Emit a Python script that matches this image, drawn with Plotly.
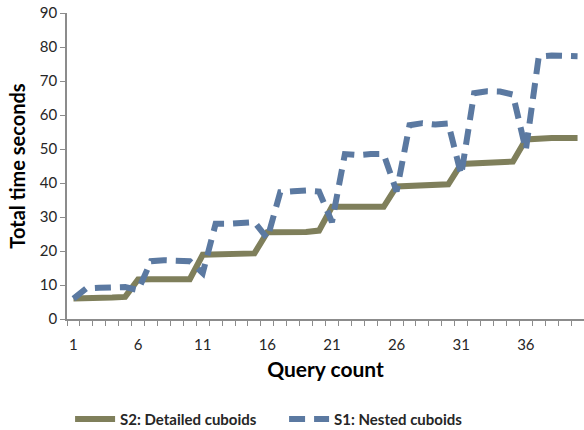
import plotly.graph_objects as go

# Query index (1..40) and cumulative running time in seconds
queries = list(range(1, 41))

detailed_cuboids = [
    6.0, 6.0, 6.0, 6.3, 6.5,
    11.6, 11.7, 11.7, 11.7, 11.7,
    18.9, 19.1, 19.3, 19.3, 19.3,
    25.5, 25.5, 25.5, 25.6, 26.0,
    33.0, 33.0, 33.0, 33.0, 33.0,
    39.0, 39.2, 39.5, 39.5, 39.6,
    45.6, 45.7, 45.8, 46.1, 46.3,
    52.8, 53.1, 53.2, 53.2, 53.2,
]

nested_cuboids = [
    6.0, 9.0, 9.2, 9.2, 9.4,
    8.5, 17.0, 17.3, 17.2, 17.0,
    13.5, 28.0, 28.0, 28.3, 28.5,
    23.7, 37.3, 37.6, 37.8, 37.5,
    28.5, 48.5, 48.2, 48.5, 48.5,
    37.5, 57.0, 57.6, 57.2, 57.5,
    42.4, 66.4, 67.0, 66.9, 66.0,
    49.7, 77.2, 77.5, 77.4, 77.3,
]

x_tick_vals = [1, 6, 11, 16, 21, 26, 31, 36]
x_tick_text = ["1", "6", "11", "16", "21", "26", "31", "36"]
y_tick_vals = [0, 10, 20, 30, 40, 50, 60, 70, 80, 90]

FONT = "Lato"
AXIS_GREY = "#8c8c8c"
TEXT = "#262626"

fig = go.Figure()
fig.add_trace(go.Scatter(
    x=queries, y=detailed_cuboids, mode="lines",
    name="S2: Detailed cuboids",
    line=dict(color="#7f7f5b", width=6),
))
fig.add_trace(go.Scatter(
    x=queries, y=nested_cuboids, mode="lines",
    name="S1: Nested cuboids",
    line=dict(color="#5b79a1", width=6, dash="16px,9px"),
))

fig.update_layout(
    width=584, height=430,
    margin=dict(l=67, r=0, t=13, b=111, autoexpand=False),
    paper_bgcolor="white", plot_bgcolor="white",
    font=dict(family=FONT, color=TEXT),
    showlegend=True,
    legend=dict(
        orientation="h",
        xref="container", x=0.12, xanchor="left",
        yref="container", y=0.025, yanchor="middle",
        font=dict(family=FONT, size=15, color=TEXT, weight="bold"),
        itemwidth=40, entrywidth=159, bgcolor="rgba(0,0,0,0)",
    ),
    xaxis=dict(
        range=[0.5, 40.5], showgrid=False, zeroline=False, automargin=False,
        showline=True, linecolor=AXIS_GREY, linewidth=1.5,
        tickmode="array", tickvals=x_tick_vals, ticktext=x_tick_text,
        ticks="outside", ticklen=11, tickcolor="rgba(0,0,0,0)",
        tickfont=dict(family=FONT, size=15, color=TEXT),
        minor=dict(tick0=0.5, dtick=1, ticks="outside", ticklen=5,
                   tickcolor=AXIS_GREY, tickwidth=1, showgrid=False),
        title=dict(text="Query count", standoff=11,
                   font=dict(family=FONT, size=21, color="black", weight="bold")),
    ),
    yaxis=dict(
        range=[0, 90], showgrid=False, zeroline=False, automargin=False,
        showline=True, linecolor=AXIS_GREY, linewidth=1.5,
        tickmode="array", tickvals=y_tick_vals,
        ticks="outside", ticklen=5, tickcolor=AXIS_GREY, tickwidth=1,
        tickfont=dict(family=FONT, size=15, color=TEXT),
        title=dict(text="Total time seconds", standoff=9,
                   font=dict(family=FONT, size=20, color="black", weight="bold")),
    ),
)

fig.write_html("out.html")
